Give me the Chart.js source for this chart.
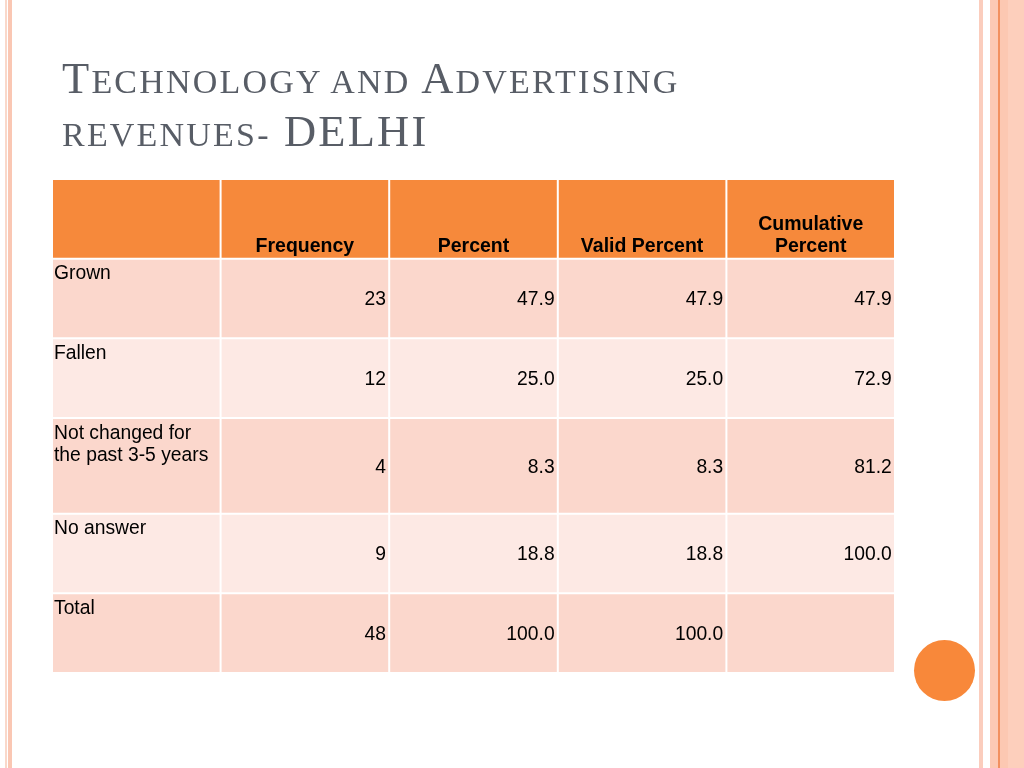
<!DOCTYPE html>
<html><head><meta charset="utf-8">
<script src="https://cdn.jsdelivr.net/npm/chart.js@4.4.1/dist/chart.umd.min.js"></script>
<style>
html,body{margin:0;padding:0;width:1024px;height:768px;overflow:hidden;background:#fff;}
.stripe{position:absolute;top:0;height:768px;}
#chart{position:absolute;left:0;top:0;z-index:2;}
.tline{position:absolute;left:62px;z-index:3;font-family:'Liberation Serif','Times New Roman',serif;color:#585d66;font-size:44.5px;line-height:1;white-space:nowrap;letter-spacing:2.2px;}
.sc{font-size:34px;}
#dot{position:absolute;left:913.5px;top:639.5px;width:61px;height:61px;border-radius:50%;background:#F8883A;z-index:1;}
</style></head><body>
<div class="stripe" style="left:5px;width:1.5px;background:#F9D8CA"></div>
<div class="stripe" style="left:8px;width:4px;background:#FAC7B3"></div>
<div class="stripe" style="left:979px;width:4px;background:#FBCDBD"></div>
<div class="stripe" style="left:990px;width:8px;background:#FCC9B4"></div>
<div class="stripe" style="left:998px;width:1.5px;background:#F2905F"></div>
<div class="stripe" style="left:999.5px;width:8.5px;background:#FCC8B2"></div>
<div class="stripe" style="left:1008px;width:16px;background:#FDCFBC"></div>
<div id="dot"></div>
<div class="tline" style="top:55.7px">T<span class="sc">ECHNOLOGY AND </span>A<span class="sc">DVERTISING</span></div>
<div class="tline" style="top:108.7px"><span class="sc">REVENUES-</span> DELHI</div>
<canvas id="chart" width="1024" height="768"></canvas>
<script>
// ---- data ----
const columnHeaders = ['', 'Frequency', 'Percent', 'Valid Percent', 'Cumulative\nPercent'];
const rowLabels = ['Grown', 'Fallen', 'Not changed for\nthe past 3-5 years', 'No answer', 'Total'];
const frequency = [23, 12, 4, 9, 48];
const percent = [47.9, 25.0, 8.3, 18.8, 100.0];
const validPercent = [47.9, 25.0, 8.3, 18.8, 100.0];
const cumulativePercent = [47.9, 72.9, 81.2, 100.0, null];

// ---- layout (relative row heights: header + rows) ----
const rowWeights = [1, 1, 1, 1.2, 1, 1];
const rowBounds = [0];
rowWeights.forEach(w => rowBounds.push(rowBounds[rowBounds.length - 1] + w));

const valueColumns = [
  { values: frequency, fmt: v => String(v) },
  { values: percent, fmt: v => v.toFixed(1) },
  { values: validPercent, fmt: v => v.toFixed(1) },
  { values: cumulativePercent, fmt: v => v.toFixed(1) }
];

const headerColor = '#F6893B';
const rowColors = ['#FBD7CC', '#FDE9E4'];

const datasets = rowWeights.map((w, r) => ({
  data: columnHeaders.map(() => [rowBounds[r], rowBounds[r + 1]]),
  backgroundColor: r === 0 ? headerColor : rowColors[(r - 1) % 2],
  borderColor: '#ffffff',
  borderWidth: 1,
  borderSkipped: false,
  inflateAmount: 0,
  grouped: false,
  barPercentage: 1,
  categoryPercentage: 1
}));

const cellText = {
  id: 'cellText',
  afterDatasetsDraw(chart) {
    const { ctx, scales: { x, y }, chartArea } = chart;
    const colW = (chartArea.right - chartArea.left) / columnHeaders.length;
    ctx.save();
    ctx.fillStyle = '#000';
    ctx.textBaseline = 'alphabetic';
    // header
    ctx.font = 'bold 19.5px "Liberation Sans", Arial, sans-serif';
    ctx.textAlign = 'center';
    const hBottom = y.getPixelForValue(rowBounds[1]);
    columnHeaders.forEach((h, i) => {
      const lines = h.split('\n');
      const cx = x.getPixelForValue(i);
      lines.forEach((ln, k) => ctx.fillText(ln, cx, hBottom - 7 - (lines.length - 1 - k) * 22));
    });
    // rows
    ctx.font = '19.3px "Liberation Sans", Arial, sans-serif';
    rowLabels.forEach((lab, r) => {
      const top = y.getPixelForValue(rowBounds[r + 1]);
      const bottom = y.getPixelForValue(rowBounds[r + 2]);
      ctx.textAlign = 'left';
      const left = x.getPixelForValue(0) - colW / 2;
      lab.split('\n').forEach((ln, k) => ctx.fillText(ln, left + 2, top + 20.5 + k * 22));
      ctx.textAlign = 'right';
      const mid = (top + bottom) / 2;
      valueColumns.forEach((col, c) => {
        const v = col.values[r];
        if (v === null || v === undefined) return;
        const right = x.getPixelForValue(c + 1) + colW / 2;
        ctx.fillText(col.fmt(v), right - 3.2, mid + 6.8);
      });
    });
    ctx.restore();
  }
};

new Chart(document.getElementById('chart'), {
  type: 'bar',
  data: { labels: columnHeaders, datasets },
  options: {
    responsive: false,
    animation: false,
    devicePixelRatio: 1,
    layout: { padding: { left: 52, right: 129, top: 179, bottom: 95 } },
    plugins: { legend: { display: false }, tooltip: { enabled: false }, title: { display: false } },
    scales: {
      x: { type: 'category', display: false, offset: true },
      y: { type: 'linear', display: false, reverse: true, min: 0, max: rowBounds[rowBounds.length - 1] }
    }
  },
  plugins: [cellText]
});
</script>
</body></html>
